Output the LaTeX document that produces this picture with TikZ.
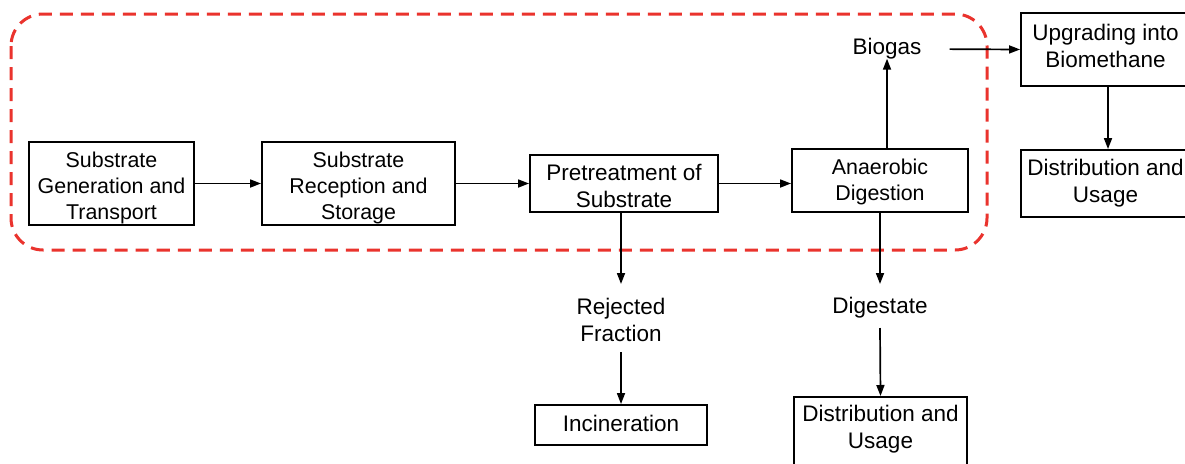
\documentclass[tikz,border=0pt]{standalone}
\usepackage{fontspec}
\setmainfont{Liberation Sans}
\usetikzlibrary{arrows.meta,calc}
\definecolor{dashred}{RGB}{234,51,45}
\begin{document}
\begin{tikzpicture}[x=1pt,y=-1pt,
  font=\fontsize{22.5}{27}\selectfont,
  smallfont/.style={font=\fontsize{21.4}{26}\selectfont},
  box/.style={draw, line width=1.9pt, align=center, inner sep=2pt},
  lbl/.style={align=center, inner sep=2pt},
  arr/.style={-{Triangle[length=11pt,width=8pt]}, line width=1.7pt},
]
\useasboundingbox (0,0) rectangle (1185,463);
\clip (0,0) rectangle (1185,463);
\fill[white] (0,0) rectangle (1185,463);
\draw[dashred, line width=3pt, dash pattern=on 13pt off 8pt, rounded corners=32pt] (11,14) rectangle (987,250);

\node[box, minimum width=165pt, minimum height=83pt,
  label={[lbl, smallfont, yshift=-4pt]center:{Substrate\\Generation and\\Transport}}] (b1) at (111.5,183.5) {};
\node[box, minimum width=193pt, minimum height=83pt,
  label={[lbl, smallfont, yshift=-4.5pt]center:{Substrate\\Reception and\\Storage}}] (b2) at (358.5,183.5) {};
\node[box, minimum width=188pt, minimum height=57pt,
  label={[lbl, yshift=-2.5pt]center:{Pretreatment of\\Substrate}}] (b3) at (624,183.5) {};
\node[box, minimum width=176pt, minimum height=63pt,
  label={[lbl, smallfont, yshift=-1.5pt]center:{Anaerobic\\Digestion}}] (b4) at (880,180.5) {};
\node[box, minimum width=169pt, minimum height=73pt,
  label={[lbl, yshift=4pt]center:{Upgrading into\\Biomethane}}] (b5) at (1105.5,49.5) {};
\node[box, minimum width=169pt, minimum height=67pt,
  label={[lbl]center:{Distribution and\\Usage}}] (b6) at (1105.5,183.5) {};
\node[lbl] (biogas) at (887,49) {Biogas};
\node[lbl] (rej) at (621,320) {Rejected\\Fraction};
\node[lbl] (dig) at (880,307.5) {Digestate};
\node[box, minimum width=172pt, minimum height=40pt,
  label={[lbl, yshift=2pt]center:{Incineration}}] (inc) at (621,425) {};
\node[box, anchor=north, minimum width=173pt, minimum height=90pt,
  label={[lbl, anchor=north, yshift=-7pt]north:{Distribution and\\Usage}}] (du2) at (880.5,396) {};

\draw[arr] (b1.east) -- (b2.west);
\draw[arr] (b2.east) -- (b3.west);
\draw[arr] (b3.east) -- (b3.east -| b4.west);
\draw[arr] (b4.north -| biogas.south) -- ($(biogas.south)+(0,-3)$);
\draw[arr, shorten <=26pt] (biogas.east) -- (b5.west);
\draw[arr] (b5.south -| 1108,0) -- (b6.north -| 1108,0);
\draw[arr] (b3.south -| rej.north) -- (621,284);
\draw[arr] (621,352) -- (inc.north);
\draw[arr] (b4.south) -- (880,284);
\draw[arr] (880,328) -- (du2.north);
\end{tikzpicture}
\end{document}
